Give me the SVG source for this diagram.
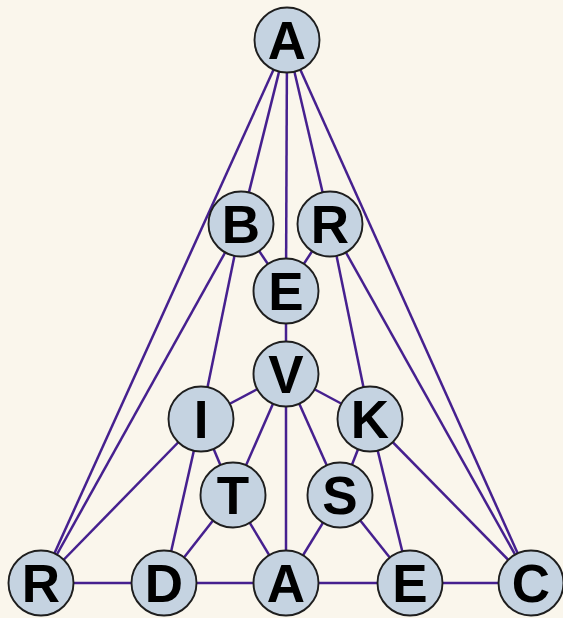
<svg xmlns="http://www.w3.org/2000/svg" width="563" height="618" viewBox="0 0 563 618">
<style>
.e{stroke:#46208f;stroke-width:2.5;fill:none}
.n circle{fill:#c5d3e1;stroke:#1e1e1e;stroke-width:1.9}
.n text{font-family:"Liberation Sans",Arial,sans-serif;font-weight:bold;font-size:53px;fill:#000;text-anchor:middle}
</style>
<rect width="563" height="618" fill="#faf6ec"/>
<g id="edges">
<line class="e" x1="287" y1="40" x2="41" y2="583"/>
<line class="e" x1="287" y1="40" x2="241" y2="224"/>
<line class="e" x1="287" y1="40" x2="286" y2="291"/>
<line class="e" x1="287" y1="40" x2="330" y2="224"/>
<line class="e" x1="287" y1="40" x2="531" y2="583"/>
<line class="e" x1="241" y1="224" x2="286" y2="291"/>
<line class="e" x1="241" y1="224" x2="41" y2="583"/>
<line class="e" x1="241" y1="224" x2="201" y2="419"/>
<line class="e" x1="330" y1="224" x2="286" y2="291"/>
<line class="e" x1="330" y1="224" x2="370" y2="419"/>
<line class="e" x1="330" y1="224" x2="531" y2="583"/>
<line class="e" x1="286" y1="291" x2="286" y2="374"/>
<line class="e" x1="286" y1="374" x2="201" y2="419"/>
<line class="e" x1="286" y1="374" x2="370" y2="419"/>
<line class="e" x1="286" y1="374" x2="233" y2="495"/>
<line class="e" x1="286" y1="374" x2="340" y2="495"/>
<line class="e" x1="286" y1="374" x2="286" y2="583"/>
<line class="e" x1="201" y1="419" x2="233" y2="495"/>
<line class="e" x1="201" y1="419" x2="41" y2="583"/>
<line class="e" x1="201" y1="419" x2="164" y2="583"/>
<line class="e" x1="370" y1="419" x2="340" y2="495"/>
<line class="e" x1="370" y1="419" x2="410" y2="583"/>
<line class="e" x1="370" y1="419" x2="531" y2="583"/>
<line class="e" x1="233" y1="495" x2="164" y2="583"/>
<line class="e" x1="233" y1="495" x2="286" y2="583"/>
<line class="e" x1="340" y1="495" x2="286" y2="583"/>
<line class="e" x1="340" y1="495" x2="410" y2="583"/>
<line class="e" x1="41" y1="583" x2="531" y2="583"/>
</g>
<g id="n_A1" class="n"><circle cx="287" cy="40" r="32.5"/><text x="287" y="59">A</text></g>
<g id="n_B" class="n"><circle cx="241" cy="224" r="32.5"/><text x="241" y="243">B</text></g>
<g id="n_R1" class="n"><circle cx="330" cy="224" r="32.5"/><text x="330" y="243">R</text></g>
<g id="n_E1" class="n"><circle cx="286" cy="291" r="32.5"/><text x="286" y="310">E</text></g>
<g id="n_V" class="n"><circle cx="286" cy="374" r="32.5"/><text x="286" y="393">V</text></g>
<g id="n_I" class="n"><circle cx="201" cy="419" r="32.5"/><text x="201" y="438">I</text></g>
<g id="n_K" class="n"><circle cx="370" cy="419" r="32.5"/><text x="370" y="438">K</text></g>
<g id="n_T" class="n"><circle cx="233" cy="495" r="32.5"/><text x="233" y="514">T</text></g>
<g id="n_S" class="n"><circle cx="340" cy="495" r="32.5"/><text x="340" y="514">S</text></g>
<g id="n_R2" class="n"><circle cx="41" cy="583" r="32.5"/><text x="41" y="602">R</text></g>
<g id="n_D" class="n"><circle cx="164" cy="583" r="32.5"/><text x="164" y="602">D</text></g>
<g id="n_A2" class="n"><circle cx="286" cy="583" r="32.5"/><text x="286" y="602">A</text></g>
<g id="n_E2" class="n"><circle cx="410" cy="583" r="32.5"/><text x="410" y="602">E</text></g>
<g id="n_C" class="n"><circle cx="531" cy="583" r="32.5"/><text x="531" y="602">C</text></g>
</svg>
